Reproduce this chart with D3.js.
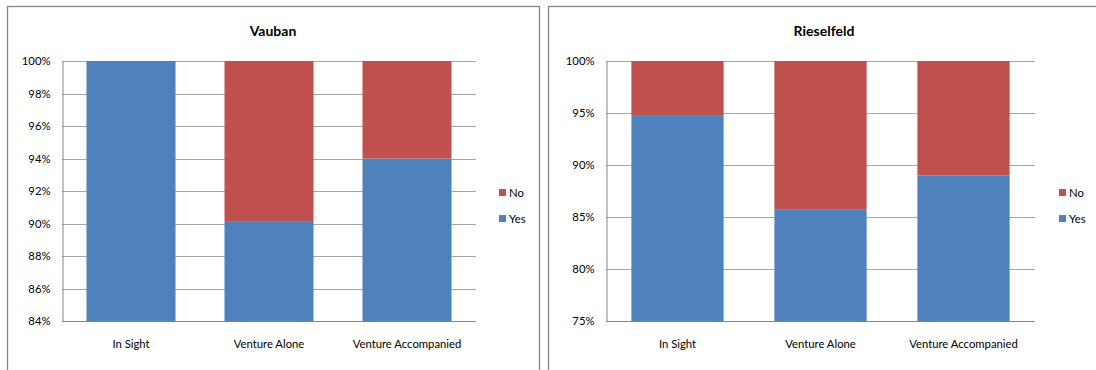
<!DOCTYPE html>
<html><head><meta charset="utf-8">
<script src="https://cdn.jsdelivr.net/npm/d3@7/dist/d3.min.js"></script>
<style>body{margin:0;background:#fff;}svg{display:block;}text{font-family:Lato,"Open Sans",sans-serif;fill:#000;}</style>
</head><body><svg id="c" width="1096" height="370"></svg>
<script>
const categories = ["In Sight", "Venture Alone", "Venture Accompanied"];
const seriesNames = ["Yes", "No"];
const vaubanYes = [100, 90.1, 94.0];
const vaubanNo = [0, 9.9, 6.0];
const rieselfeldYes = [94.8, 85.7, 89.0];
const rieselfeldNo = [5.2, 14.3, 11.0];
const vaubanTicks = [84, 86, 88, 90, 92, 94, 96, 98, 100];
const rieselfeldTicks = [75, 80, 85, 90, 95, 100];

const colors = {Yes: "#4F81BD", No: "#C0504D"};
const svg = d3.select("#c");

const panels = [
  {title: "Vauban", yes: vaubanYes, no: vaubanNo, ticks: vaubanTicks,
   box: [7, 6, 532, 380], plot: [62, 61, 476, 321], legendX: 499, titleX: 273},
  {title: "Rieselfeld", yes: rieselfeldYes, no: rieselfeldNo, ticks: rieselfeldTicks,
   box: [548, 6, 560, 380], plot: [606, 61, 1035, 321], legendX: 1059, titleX: 824}
];

panels.forEach(p => {
  const g = svg.append("g");
  g.append("rect").attr("x", p.box[0] + 0.5).attr("y", p.box[1] + 0.5)
    .attr("width", p.box[2]).attr("height", p.box[3])
    .attr("fill", "#fff").attr("stroke", "#868686").attr("stroke-width", 1.3);
  const [x0, y0, x1, y1] = p.plot;
  const x = d3.scaleBand().domain(categories).range([x0, x1]).paddingInner(0.355).paddingOuter(0.1775);
  const y = d3.scaleLinear().domain([p.ticks[0], p.ticks[p.ticks.length - 1]]).range([y1, y0]).clamp(true);

  g.append("g").selectAll("line").data(p.ticks.slice(1)).join("line")
    .attr("x1", x0).attr("x2", x1).attr("y1", d => Math.round(y(d)) + 0.5).attr("y2", d => Math.round(y(d)) + 0.5)
    .attr("stroke", "#a6a6a6").attr("stroke-width", 1);

  const rows = categories.map((c, i) => ({cat: c, Yes: p.yes[i], No: p.no[i]}));
  const stacked = d3.stack().keys(seriesNames)(rows);
  g.append("g").selectAll("g").data(stacked).join("g").attr("fill", s => colors[s.key])
    .selectAll("rect").data(s => s).join("rect")
    .attr("x", d => x(d.data.cat)).attr("width", x.bandwidth())
    .attr("y", d => y(d[1])).attr("height", d => Math.max(0, y(d[0]) - y(d[1])));

  const yAxis = d3.axisLeft(y).tickValues(p.ticks).tickFormat(d => d + "%").tickSize(0).tickPadding(12);
  const ya = g.append("g").attr("transform", `translate(${x0 + 0.5},0)`).call(yAxis);
  ya.select(".domain").attr("stroke", "#868686");
  ya.selectAll("text").style("font-size", "11.3px").style("font-family", "Lato");
  const xAxis = d3.axisBottom(x).tickSize(0).tickPadding(18);
  const xa = g.append("g").attr("transform", `translate(0,${y1 + 0.5})`).call(xAxis);
  xa.select(".domain").attr("stroke", "#868686").attr("d", `M${x0},0H${x1}`);
  xa.selectAll("text").style("font-size", "11.3px").style("font-family", "Lato");

  g.append("text").attr("x", p.titleX).attr("y", 36).attr("text-anchor", "middle")
    .style("font-weight", "bold").style("font-size", "14px").text(p.title);

  const leg = g.append("g").selectAll("g").data(["No", "Yes"]).join("g")
    .attr("transform", (d, i) => `translate(${p.legendX},${189 + i * 26})`);
  leg.append("rect").attr("width", 7).attr("height", 7).attr("fill", d => colors[d]);
  leg.append("text").attr("x", 10).attr("y", 7.5).style("font-size", "11.3px").text(d => d);
});
</script></body></html>
